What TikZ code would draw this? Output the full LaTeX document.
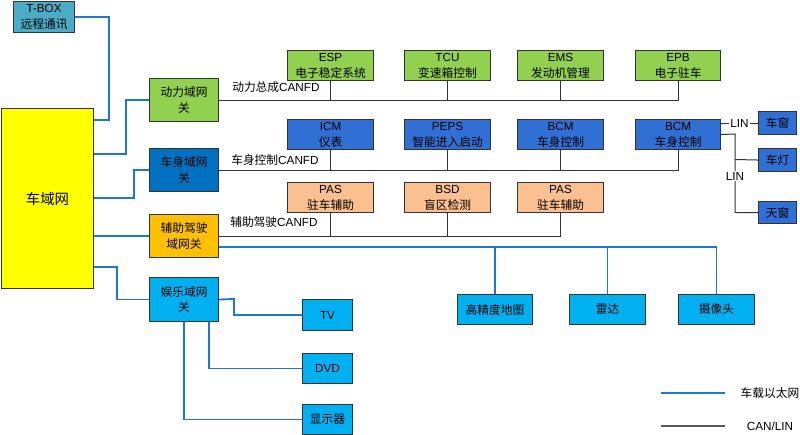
\documentclass[tikz,border=0pt]{standalone}
\usepackage{fontspec}
\setmainfont{Liberation Sans}
\newfontfamily\cjk{Noto Sans CJK SC}
\newcommand\zh[1]{{\cjk #1}}
\newcommand\bx[7]{\node[#6, anchor=north west, minimum width={(#4-#2)*0.75pt}, minimum height={(#5-#3)*0.75pt}] (#1) at (#2,#3) {#7};}
\definecolor{tboxc}{HTML}{4BACC6}
\definecolor{greenc}{HTML}{92D050}
\definecolor{csgwc}{HTML}{0070C0}
\definecolor{bluec}{HTML}{3070D4}
\definecolor{orangec}{HTML}{FAC090}
\definecolor{fzgwc}{HTML}{FFC000}
\definecolor{cyanc}{HTML}{00B0F0}
\definecolor{yellowc}{HTML}{FFFF00}
\definecolor{ethc}{HTML}{1E78D2}
\definecolor{canc}{HTML}{333333}
\begin{document}
\begin{tikzpicture}[x=0.75pt,y=-0.75pt,
  box/.style={draw=black!80, line width=0.8pt, inner sep=1pt, align=center, font=\fontsize{8.8}{12}\selectfont},
  gw/.style={box, font=\fontsize{8.8}{11.3}\selectfont},
  eth/.style={draw=ethc, line width=1.4pt},
  can/.style={draw=canc, line width=0.75pt},
  lbl/.style={font=\fontsize{8.8}{11}\selectfont, inner sep=0pt},
  linlbl/.style={font=\fontsize{8.8}{11}\selectfont, fill=white, inner sep=1pt}]
\useasboundingbox (0,0) rectangle (800,435);
% main boxes
\bx{tbox}{13}{1}{74}{32}{box, fill=tboxc}{T-BOX\\\zh{远程通讯}}
\bx{cyw}{1}{108}{93}{288}{box, fill=yellowc, font=\fontsize{10.8}{13}\selectfont}{\zh{车域网}}
\bx{dl}{149}{78}{218}{121}{gw, fill=greenc}{\zh{动力域网}\\\zh{关}}
\bx{cs}{149}{148}{218}{191}{gw, fill=csgwc}{\zh{车身域网}\\\zh{关}}
\bx{fz}{149}{214}{218}{257}{gw, fill=fzgwc}{\zh{辅助驾驶}\\\zh{域网关}}
\bx{yl}{149}{277}{218}{321}{gw, fill=cyanc}{\zh{娱乐域网}\\\zh{关}}
% row 1
\bx{esp}{287}{50}{373}{80}{box, fill=greenc}{ESP\\\zh{电子稳定系统}}
\bx{tcu}{404}{50}{490}{80}{box, fill=greenc}{TCU\\\zh{变速箱控制}}
\bx{ems}{517}{50}{603}{80}{box, fill=greenc}{EMS\\\zh{发动机管理}}
\bx{epb}{635}{50}{720}{80}{box, fill=greenc}{EPB\\\zh{电子驻车}}
% row 2
\bx{icm}{287}{119}{373}{149}{box, fill=bluec}{ICM\\\zh{仪表}}
\bx{peps}{404}{119}{490}{149}{box, fill=bluec}{PEPS\\\zh{智能进入启动}}
\bx{bcma}{517}{119}{603}{149}{box, fill=bluec}{BCM\\\zh{车身控制}}
\bx{bcmb}{635}{119}{720}{149}{box, fill=bluec}{BCM\\\zh{车身控制}}
% row 3
\bx{pasa}{287}{182}{373}{212}{box, fill=orangec}{PAS\\\zh{驻车辅助}}
\bx{bsd}{404}{182}{490}{212}{box, fill=orangec}{BSD\\\zh{盲区检测}}
\bx{pasb}{517}{182}{603}{212}{box, fill=orangec}{PAS\\\zh{驻车辅助}}
% LIN devices
\bx{cw}{758}{111}{796}{134}{box, fill=bluec}{\zh{车窗}}
\bx{cd}{758}{148}{796}{171}{box, fill=bluec}{\zh{车灯}}
\bx{tc}{758}{201}{796}{223}{box, fill=bluec}{\zh{天窗}}
% ethernet devices
\bx{hd}{457}{294}{532}{324}{box, fill=cyanc}{\zh{高精度地图}}
\bx{ld}{569}{294}{645}{324}{box, fill=cyanc}{\zh{雷达}}
\bx{cam}{678}{294}{754}{324}{box, fill=cyanc}{\zh{摄像头}}
% entertainment devices
\bx{tv}{302}{299}{352}{330}{box, fill=cyanc}{TV}
\bx{dvd}{302}{353}{352}{383}{box, fill=cyanc}{DVD}
\bx{xsq}{302}{404}{352}{434}{box, fill=cyanc}{\zh{显示器}}
% ethernet backbone
\draw[eth] (tbox.east) -| (109,120) -- (cyw.east |- 109,120);
\draw[eth] (cyw.east |- 0,154) -- (126,154) |- (dl.west);
\draw[eth] (cyw.east |- 0,198) -- (134,198) |- (cs.west);
\draw[eth] (cyw.east |- fz.west) -- (fz.west);
\draw[eth] (cyw.east |- 0,267) -- (117,267) |- (yl.west);
\draw[eth] (yl.east) -- (234,299) |- (tv.west);
\draw[eth] ([xshift=-7.5pt]yl.south east) |- (dvd.west);
\draw[eth] (yl.south) |- (xsq.west);
\draw[eth] ([yshift=-8.25pt]fz.east) coordinate (e0) -| (cam.north);
\draw[eth] (hd.north) -- (hd.north |- e0);
\draw[eth] (ld.north) -- (ld.north |- e0);
% CAN buses
\draw[can] (dl.east) -- (epb.south |- dl.east) -- (epb.south);
\draw[can] (esp.south) -- (esp.south |- dl.east);
\draw[can] (tcu.south) -- (tcu.south |- dl.east);
\draw[can] (ems.south) -- (ems.south |- dl.east);
\draw[can] (cs.east) -- (bcmb.south |- cs.east) -- (bcmb.south);
\draw[can] (icm.south) -- (icm.south |- cs.east);
\draw[can] (peps.south) -- (peps.south |- cs.east);
\draw[can] (bcma.south) -- (bcma.south |- cs.east);
\draw[can] (fz.east) -- (pasb.south |- fz.east) -- (pasb.south);
\draw[can] (pasa.south) -- (pasa.south |- fz.east);
\draw[can] (bsd.south) -- (bsd.south |- fz.east);
\node[lbl, anchor=west] (l1) at (232,87) {\zh{动力总成}CANFD};
\node[lbl, anchor=west] (l2) at (231,160) {\zh{车身控制}CANFD};
\node[lbl, anchor=west] (l3) at (230,222) {\zh{辅助驾驶}CANFD};
% LIN
\draw[can] (bcmb.east |- cw.west) -- node[linlbl] {LIN} (cw.west);
\draw[can] (bcmb.east) -- (735,134) |- (tc.west);
\draw[can] (735,159.5) -- (cd.west);
\node[linlbl] (lin2) at (735,176) {LIN};
% legend
\coordinate (la) at (661,393); \coordinate (lb) at (725,393);
\coordinate (lc) at (661,426); \coordinate (ld2) at (725,426);
\draw[eth] (la) -- (lb);
\draw[can, draw=black!65, line width=1pt] (lc) -- (ld2);
\node[lbl] (t1) at (770,393) {\zh{车载以太网}};
\node[lbl] (t2) at (770,426) {CAN/LIN};
\end{tikzpicture}
\end{document}
